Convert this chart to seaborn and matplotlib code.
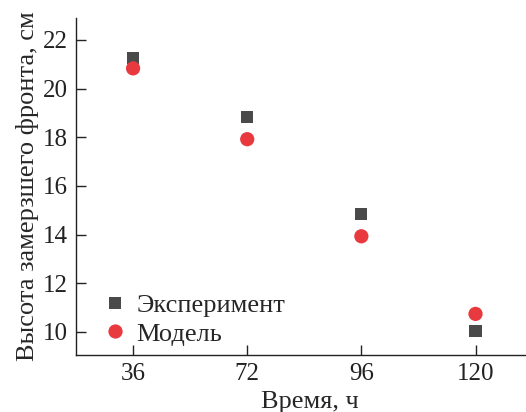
import pandas as pd
import numpy as np
import seaborn as sns
import matplotlib.pyplot as plt

# data
time_labels = ['36', '72', '96', '120']
experiment = [21.25, 18.83, 14.85, 10.03]
model = [20.83, 17.92, 13.93, 10.74]
series_names = ['Эксперимент', 'Модель']

df = pd.DataFrame({
    'Время': time_labels * 2,
    'Высота': experiment + model,
    'Серия': [series_names[0]] * 4 + [series_names[1]] * 4,
})

sns.set_style('ticks')
plt.rcParams['font.family'] = ['Liberation Serif', 'DejaVu Serif']

fig = plt.figure(figsize=(5.26, 4.12), dpi=100)
ax = fig.add_axes([0.1445, 0.1383, 0.8897, 0.818])

sns.scatterplot(data=df, x='Время', y='Высота', hue='Серия', style='Серия', size='Серия',
                palette={'Эксперимент': '#4a4a4a', 'Модель': '#e8393f'},
                markers={'Эксперимент': 's', 'Модель': 'o'},
                sizes={'Эксперимент': 78, 'Модель': 105},
                linewidth=0, ax=ax)

ax.set_xlim(-0.5, 3.6)
ax.set_ylim(9.05, 22.9)
ax.set_yticks([10, 12, 14, 16, 18, 20, 22])
ax.set_xlabel('Время, ч', fontsize=19, labelpad=4)
ax.set_ylabel('Высота замерзшего фронта, см', fontsize=19, labelpad=3)
ax.tick_params(axis='both', direction='in', labelsize=18, length=7, width=1,
               color='#222222', pad=6)
for lab in ax.get_xticklabels() + ax.get_yticklabels():
    lab.set_color('#222222')
sns.despine(ax=ax)
for sp in ['left', 'bottom']:
    ax.spines[sp].set_linewidth(1)
    ax.spines[sp].set_color('#222222')

ax.legend(title=None, loc='lower left', bbox_to_anchor=(0.061, 0.028), frameon=False,
          fontsize=19, handlelength=0.8, handletextpad=0.4, labelspacing=0.18,
          borderaxespad=0, borderpad=0, markerscale=1.0)

fig.savefig('out.png', dpi=100)
